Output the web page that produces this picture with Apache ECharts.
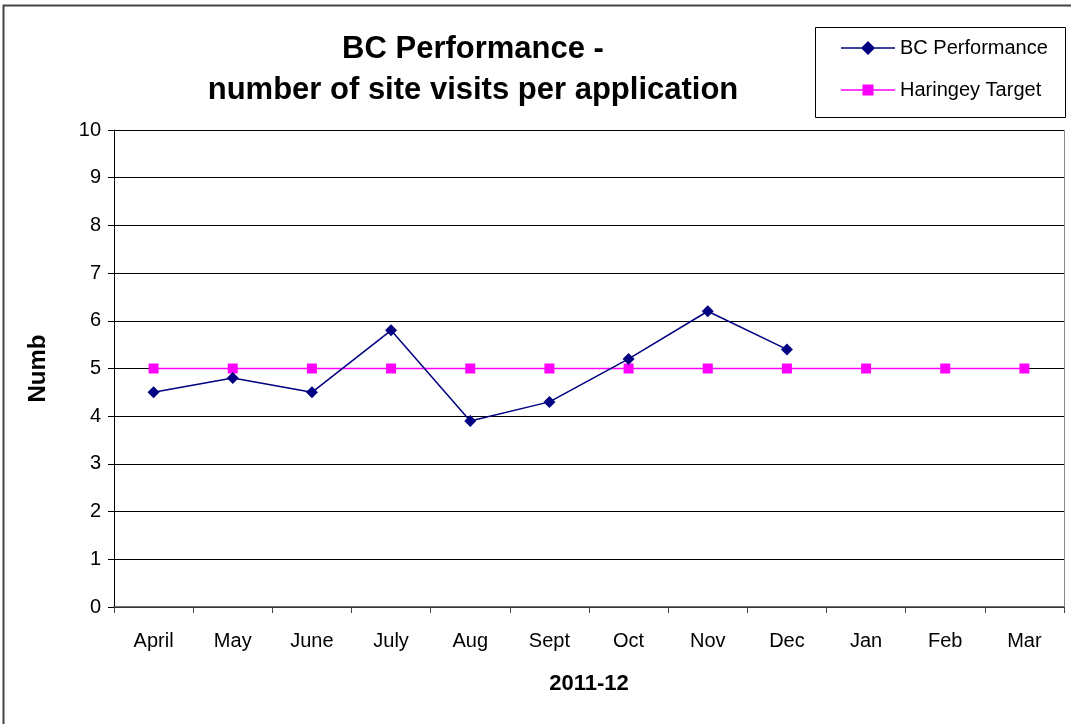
<!DOCTYPE html>
<html><head><meta charset="utf-8">
<script src="https://cdn.jsdelivr.net/npm/echarts@6/dist/echarts.min.js"></script>
<style>html,body{margin:0;padding:0;background:#fff}#c{width:1071px;height:724px}</style>
</head><body><div id="c"></div>
<script>
const categories = ['April','May','June','July','Aug','Sept','Oct','Nov','Dec','Jan','Feb','Mar'];
const bcPerformance = [4.5, 4.8, 4.5, 5.8, 3.9, 4.3, 5.2, 6.2, 5.4, null, null, null];
const haringeyTarget = [5, 5, 5, 5, 5, 5, 5, 5, 5, 5, 5, 5];
const yTicks = [0,1,2,3,4,5,6,7,8,9,10];

const FONT = '"Liberation Sans Narrow", "Liberation Sans", Arial, sans-serif';
const ICON_DIAMOND = 'path://M0,6.3 L54,6.3 L54,7.7 L0,7.7 Z M27,0 L34,7 L27,14 L20,7 Z';
const ICON_SQUARE = 'path://M0,6.3 L54,6.3 L54,7.7 L0,7.7 Z M21.5,1.5 L32.5,1.5 L32.5,12.5 L21.5,12.5 Z';
const chart = echarts.init(document.getElementById('c'), null, {renderer:'canvas'});
chart.setOption({
  animation: false,
  backgroundColor: '#fff',
  graphic: [
    {type:'rect', shape:{x:3.5,y:5.5,width:1070,height:730}, style:{fill:'none', stroke:'#444', lineWidth:2}, z:-1},
    {type:'rect', shape:{x:815.5,y:27.5,width:250,height:90}, style:{fill:'#fff', stroke:'#000', lineWidth:1}, z:0},
    {type:'line', shape:{x1:1064.5,y1:130,x2:1064.5,y2:607}, style:{stroke:'#888', lineWidth:1}, z:1}
  ],
  title: {
    text: 'BC Performance -\nnumber of site visits per application',
    left: 468, top: 24, textAlign: 'center',
    textStyle: {fontFamily: FONT, fontSize: 31, fontWeight: 'bold', color: '#000', lineHeight: 41}
  },
  legend: {
    orient: 'vertical', left: 836, top: 33, itemGap: 22, itemWidth: 54, itemHeight: 14,
    textStyle: {fontFamily: FONT, fontSize: 20, color: '#000'},
    data: [{name:'BC Performance', icon: ICON_DIAMOND}, {name:'Haringey Target', icon: ICON_SQUARE}]
  },
  grid: {left: 114, right: 7, top: 130, bottom: 117},
  xAxis: {
    type: 'category', data: categories, boundaryGap: true,
    name: '2011-12', nameLocation: 'middle', nameGap: 66,
    nameTextStyle: {fontFamily: FONT, fontSize: 22, fontWeight: 'bold', color: '#000'},
    axisLine: {lineStyle: {color: '#444', width: 1.5}},
    axisTick: {show: true, alignWithLabel: false, length: 6, lineStyle: {color: '#444'}},
    axisLabel: {fontFamily: FONT, fontSize: 20, color: '#000', margin: 24, interval: 0},
    splitLine: {show: false}
  },
  yAxis: {
    type: 'value', min: 0, max: 10, interval: 1,
    name: 'Numb', nameLocation: 'middle', nameGap: 64, nameRotate: 90,
    nameTextStyle: {fontFamily: FONT, fontSize: 24, fontWeight: 'bold', color: '#000'},
    axisLine: {show: true, lineStyle: {color: '#000', width: 1}},
    axisTick: {show: true, length: 6, lineStyle: {color: '#000'}},
    axisLabel: {fontFamily: FONT, fontSize: 20, color: '#000', margin: 13,
      formatter: v => yTicks.includes(v) ? String(v) : ''},
    splitLine: {show: true, lineStyle: {color: '#000', width: 1}}
  },
  series: [
    {name: 'Haringey Target', type: 'line', data: haringeyTarget, symbol: 'rect', symbolSize: 10,
     itemStyle: {color: '#FF00FF'}, lineStyle: {color: '#FF00FF', width: 1.5}, z: 2},
    {name: 'BC Performance', type: 'line', data: bcPerformance, symbol: 'diamond', symbolSize: 12,
     itemStyle: {color: '#000080'}, lineStyle: {color: '#000080', width: 1.5}, z: 3, connectNulls: false}
  ]
});
</script></body></html>
